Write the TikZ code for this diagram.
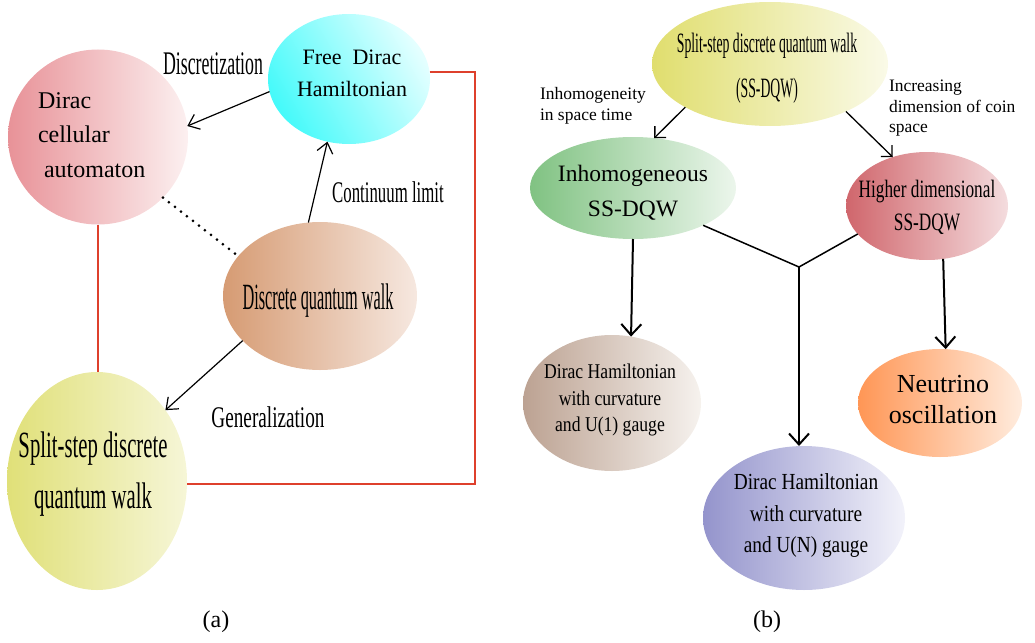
\documentclass[tikz,border=0pt]{standalone}
\usepackage{fontspec}
\setmainfont{Liberation Serif}
\usetikzlibrary{shapes.geometric,arrows.meta}
\newcommand{\fs}[2]{\fontsize{#1}{#2}\selectfont}
\newcommand{\cnd}[2]{\scalebox{#1}[1]{#2}}
\newcommand{\tb}[2][c]{\begin{tabular}{@{}#1@{}}#2\end{tabular}}
\definecolor{dcaL}{RGB}{232,146,152}\definecolor{dcaR}{RGB}{252,240,240}
\definecolor{fdL}{RGB}{70,250,250}\definecolor{fdR}{RGB}{228,255,255}
\definecolor{dqwL}{RGB}{214,155,115}\definecolor{dqwR}{RGB}{246,232,224}
\definecolor{ssL}{RGB}{224,224,120}\definecolor{ssR}{RGB}{246,246,215}
\definecolor{topL}{RGB}{224,222,110}\definecolor{topR}{RGB}{250,250,232}
\definecolor{inhL}{RGB}{128,194,130}\definecolor{inhR}{RGB}{236,246,236}
\definecolor{hdL}{RGB}{208,102,108}\definecolor{hdR}{RGB}{244,220,222}
\definecolor{uoL}{RGB}{188,162,146}\definecolor{uoR}{RGB}{246,242,238}
\definecolor{neuL}{RGB}{255,150,85}\definecolor{neuR}{RGB}{255,236,222}
\definecolor{unL}{RGB}{148,148,204}\definecolor{unR}{RGB}{242,242,250}
\definecolor{redl}{RGB}{222,64,44}
\begin{document}
\begin{tikzpicture}[x=1pt,y=-1pt,
  ell/.style={ellipse,draw=none,inner sep=0pt,outer sep=0pt},
  txt/.style={inner sep=0pt,outer sep=0pt},
  arr/.style={-{Straight Barb[length=10pt,width=16pt]},line width=1.2pt},
  arrs/.style={-{Straight Barb[length=8pt,width=16pt]},line width=1.3pt},
  arrb/.style={-{Straight Barb[length=11pt,width=20pt]},line width=2pt},
  jl/.style={line width=1.5pt},
  dotl/.style={line width=3pt,line cap=round,dash pattern=on 0pt off 7.6pt},
  redline/.style={draw=redl,line width=1.2pt}]
\useasboundingbox (0,0) rectangle (1035,642);
% (a) ellipses
\node[ell,minimum width=180pt,minimum height=175pt,left color=dcaL,right color=dcaR] (dca) at (98,137) {};
\node[ell,minimum width=162pt,minimum height=130pt,left color=fdL,right color=fdR,shading angle=120] (fd) at (349,79) {};
\node[ell,minimum width=194pt,minimum height=148pt,left color=dqwL,right color=dqwR] (dqw) at (320,296) {};
\node[ell,minimum width=180pt,minimum height=218pt,left color=ssL,right color=ssR] (ss) at (97,481) {};
% (a) texts
\node[txt,anchor=west,font=\fs{24}{34.5}] (tdca) at (38,136) {\tb[l]{Dirac\\cellular\\\hspace{6pt}automaton}};
\node[txt,font=\fs{22}{32}] (tfd) at (352,74) {\tb{Free\ \ Dirac\\Hamiltonian}};
\node[txt,font=\fs{37}{51}] (tdqw) at (318,301) {\cnd{0.44}{Discrete quantum walk}};
\node[txt,font=\fs{37}{51}] (tss) at (93,473) {\cnd{0.56}{\tb{Split-step discrete\\quantum walk}}};
\node[txt,font=\fs{33}{40}] (ldisc) at (213,64) {\cnd{0.54}{Discretization}};
\node[txt,font=\fs{30}{36}] (lcont) at (388,192) {\cnd{0.56}{Continuum limit}};
\node[txt,font=\fs{30}{36}] (lgen) at (268,417) {\cnd{0.64}{Generalization}};
\node[txt,font=\fs{24}{28}] (capa) at (216,622) {(a)};
% (a) connectors
\draw[arr] (fd.189) -- (dca.7);
\draw[arr] (dqw.99) -- (fd.251);
\draw[arr] (dqw.210) -- (ss.46);
\draw[dotl] (dca.317) -- (dqw.154);
\draw[redline] (dca.south) -- (dca.south |- ss.north);
\coordinate (rc) at (475,484);
\draw[redline] (fd.5) -| (rc) -- (rc -| ss.east);
% (b) ellipses
\node[ell,minimum width=236pt,minimum height=124pt,left color=topL,right color=topR] (top) at (770,64) {};
\node[ell,minimum width=206pt,minimum height=102pt,left color=inhL,right color=inhR] (inh) at (633,188) {};
\node[ell,minimum width=162pt,minimum height=108pt,left color=hdL,right color=hdR] (hd) at (927,206) {};
\node[ell,minimum width=178pt,minimum height=136pt,left color=uoL,right color=uoR] (uo) at (612,403) {};
\node[ell,minimum width=164pt,minimum height=108pt,left color=neuL,right color=neuR] (neu) at (940,403) {};
\node[ell,minimum width=202pt,minimum height=144pt,left color=unL,right color=unR] (un) at (804,518) {};
% (b) texts
\node[txt,font=\fs{28}{45}] (ttop) at (767,66) {\cnd{0.49}{\tb{Split-step discrete quantum walk\\(SS-DQW)}}};
\node[txt,font=\fs{23.5}{35}] (tinh) at (633,192) {\tb{Inhomogeneous\\SS-DQW}};
\node[txt,font=\fs{25}{33}] (thd) at (927,207) {\cnd{0.69}{\tb{Higher dimensional\\SS-DQW}}};
\node[txt,font=\fs{21}{26.5}] (tuo) at (610,400) {\cnd{0.84}{\tb{Dirac Hamiltonian\\with curvature\\and U(1) gauge}}};
\node[txt,font=\fs{23}{31.5}] (tun) at (806,515) {\cnd{0.84}{\tb{Dirac Hamiltonian\\with curvature\\and U(N) gauge}}};
\node[txt,font=\fs{26}{31}] (tneu) at (943,402) {\tb{Neutrino\\oscillation}};
\node[txt,anchor=west,font=\fs{17.5}{20}] (linh) at (540,106) {\tb[l]{Inhomogeneity\\in space time}};
\node[txt,anchor=west,font=\fs{17.5}{20.5}] (linc) at (889,108) {\tb[l]{Increasing\\dimension of coin\\space}};
\node[txt,font=\fs{24}{28}] (capb) at (767,622) {(b)};
% (b) connectors
\draw[arrs] (top.207) -- (inh.67);
\draw[arrs] (top.328) -- (hd.125);
\draw[arrb] (inh.south) -- (uo.74);
\draw[arrb] (hd.287) -- (neu.84);
\coordinate (J) at (799,267);
\draw[jl] (inh.332) -- (J) -- (hd.202);
\draw[arrb] (J) -- (J |- un.north);
\end{tikzpicture}
\end{document}
